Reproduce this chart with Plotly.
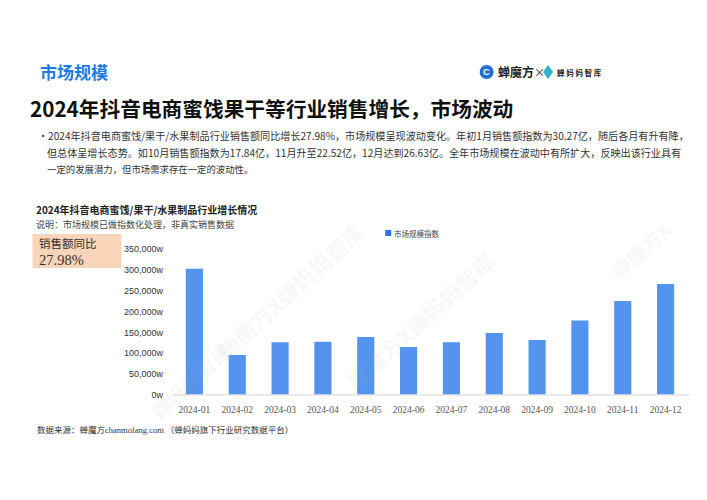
import plotly.graph_objects as go

months = ["2024-01", "2024-02", "2024-03", "2024-04", "2024-05", "2024-06",
          "2024-07", "2024-08", "2024-09", "2024-10", "2024-11", "2024-12"]
market_index = [302700, 95900, 126300, 127800, 139000, 115000,
                126300, 148600, 131800, 178400, 225200, 266300]
series_name = "市场规模指数"
y_ticks = [0, 50000, 100000, 150000, 200000, 250000, 300000, 350000]
y_tick_text = [f"{v:,}w" for v in y_ticks]

W, H = 707, 500
L, R, T, B = 172.6, 20, 249, 105
PW = W - L - R
PH = H - T - B


def px(x):
    return (x - L) / PW


def py(y):
    return (H - B - y) / PH


BAR = "#5494EE"
CJK = "Noto Sans CJK SC"

fig = go.Figure()
fig.add_trace(go.Bar(
    x=months, y=market_index, name=series_name,
    marker=dict(color=BAR, line=dict(width=0)), width=0.4,
    showlegend=False,
))

ann = []


def text(x, y, s, size, color="#333333", family=CJK, anchor="left", angle=0, bold=False):
    if bold:
        s = "<b>" + s + "</b>"
    ann.append(dict(x=px(x), y=py(y), xref="paper", yref="paper", text=s,
                    showarrow=False, xanchor=anchor, yanchor="middle",
                    textangle=angle, font=dict(size=size, color=color, family=family)))


# watermarks
wm = "rgba(170,170,170,0.10)"
text(290, 290, "蝉魔方X蝉妈妈智库", 22, wm, anchor="center", angle=-42, bold=True)
text(420, 320, "蝉魔方X蝉妈妈智库", 22, wm, anchor="center", angle=-42, bold=True)
text(190, 380, "蝉妈妈智库", 20, wm, anchor="center", angle=-42, bold=True)
text(640, 250, "蝉魔方X", 20, wm, anchor="center", angle=-42, bold=True)

# header
text(37, 72, "市场规模", 17, "#1E7BE0", bold=True)
text(496, 72, "蝉魔方", 12, "#222222", bold=True)
text(532, 72, "×", 11, "#222222")
text(555, 72.5, "蝉 妈 妈 智 库", 7.5, "#222222", bold=True)
text(486.5, 72, "C", 9, "#ffffff", family="Liberation Sans", anchor="center", bold=True)

text(27, 108, "2024年抖音电商蜜饯果干等行业销售增长，市场波动", 20.7, "#111111", bold=True)

text(35, 135, "・2024年抖音电商蜜饯/果干/水果制品行业销售额同比增长27.98%，市场规模呈现波动变化。年初1月销售额指数为30.27亿，随后各月有升有降，", 10.1, "#333333")
text(45, 152, "但总体呈增长态势。如10月销售额指数为17.84亿，11月升至22.52亿，12月达到26.63亿。全年市场规模在波动中有所扩大，反映出该行业具有", 10.1, "#333333")
text(45, 169, "一定的发展潜力，但市场需求存在一定的波动性。", 9.4, "#333333")

text(33, 209, "2024年抖音电商蜜饯/果干/水果制品行业增长情况", 10, "#222222", bold=True)
text(33, 224, "说明：市场规模已做指数化处理，非真实销售数据", 9, "#444444")

text(36, 243, "销售额同比", 11.5, "#333333")
text(36, 260, "27.98%", 14.5, "#333333", family="Liberation Serif")

# legend entry
text(392, 233, series_name, 7.5, "#444444")

text(34, 429, "数据来源：蝉魔方<span style='font-family:Liberation Serif'>chanmofang.com</span> （蝉妈妈旗下行业研究数据平台）", 8.5, "#333333")

shapes = [
    dict(type="rect", xref="paper", yref="paper", x0=px(32), x1=px(121), y0=py(234), y1=py(268),
         fillcolor="#F8D4B9", line=dict(width=0), layer="below"),
    dict(type="rect", xref="paper", yref="paper", x0=px(385), x1=px(391), y0=py(236), y1=py(230),
         fillcolor="#2F74E6", line=dict(width=0)),
    dict(type="circle", xref="paper", yref="paper", x0=px(479.5), x1=px(493.5), y0=py(79), y1=py(65),
         fillcolor="#1F6FD6", line=dict(width=0)),
    dict(type="path", xref="paper", yref="paper",
         path=f"M {px(543)} {py(72)} L {px(548)} {py(65)} L {px(553)} {py(72)} L {px(548)} {py(79)} Z",
         fillcolor="#2BB3C9", line=dict(width=0)),
    dict(type="line", xref="paper", yref="paper", x0=0, x1=1.005, y0=0, y1=0,
         line=dict(color="#E3E3E3", width=1.5)),
]

fig.update_layout(
    width=W, height=H,
    margin=dict(l=L, r=R, t=T, b=B, pad=0),
    paper_bgcolor="white", plot_bgcolor="white",
    bargap=0.6,
    font=dict(family=CJK, color="#333333"),
    annotations=ann, shapes=shapes,
    showlegend=False,
)
fig.update_xaxes(
    type="category", range=[-0.5, 11.5], showgrid=False, zeroline=False, showline=False,
    ticks="", ticklabelstandoff=7,
    tickfont=dict(family="Liberation Serif", size=9.5, color="#555555"),
)
fig.update_yaxes(
    range=[0, 350000], tickvals=y_ticks, ticktext=y_tick_text,
    showgrid=False, zeroline=False, showline=False, ticks="", ticklabelstandoff=9,
    tickfont=dict(family="Liberation Sans", size=9, color="#333333"),
)

fig.write_html("out.html", config={"displayModeBar": False},
               post_script="document.body.style.margin='0';document.body.style.overflow='hidden';")
